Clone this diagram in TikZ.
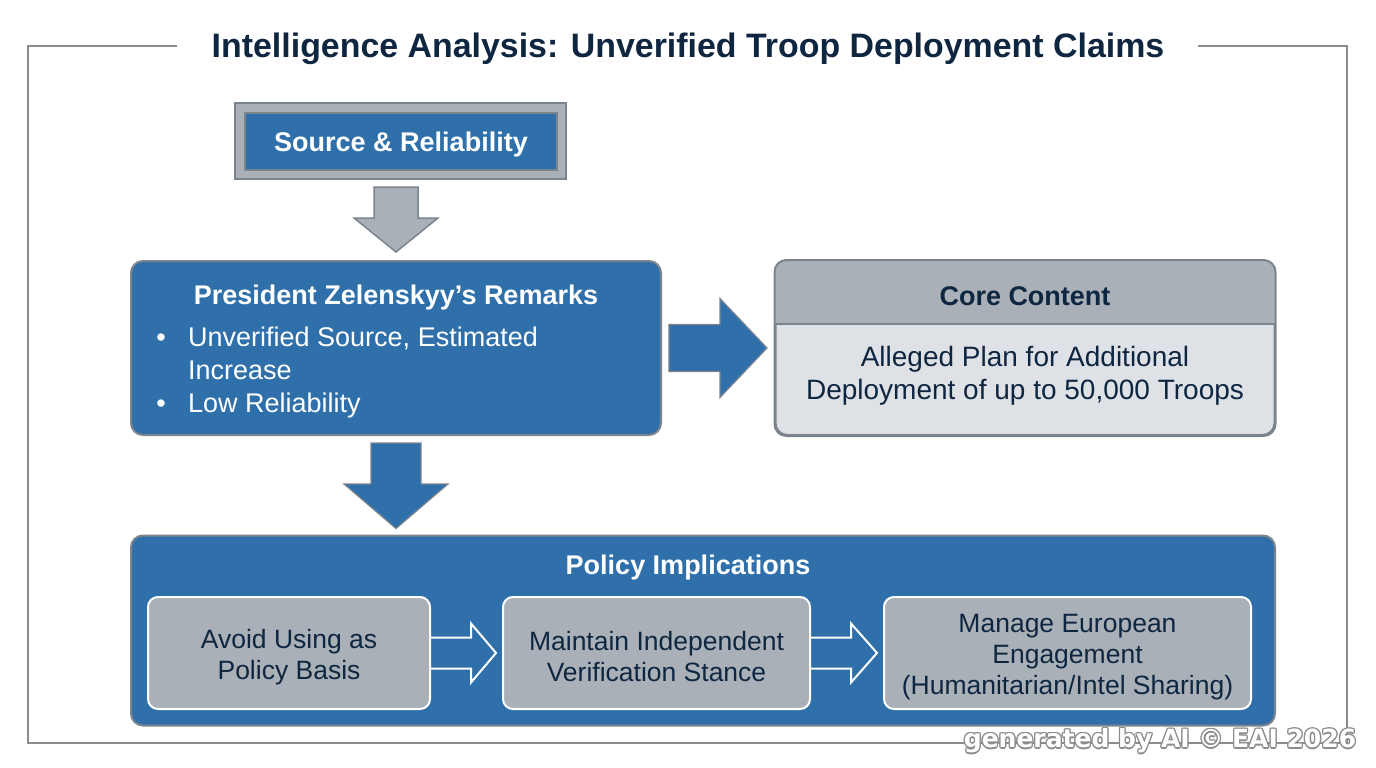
\documentclass[tikz,border=0pt]{standalone}
\usepackage{fontspec}
\setmainfont{Liberation Sans}
\newfontfamily\wmfont{DejaVu Sans}
\usetikzlibrary{positioning,calc}
\definecolor{kek}{HTML}{2F70AB}
\definecolor{szur}{HTML}{A9B0B7}
\definecolor{vil}{HTML}{DEE2E6}
\definecolor{el}{HTML}{7B848D}
\definecolor{navy}{HTML}{0F2640}
\definecolor{keret}{HTML}{8C8C8C}
\newcommand\fsz[2]{\fontsize{#1}{#2}\selectfont}
\tikzset{
  blu/.style={draw=el,line width=2pt,fill=kek,rounded corners=12pt,inner sep=0pt},
  gry/.style={draw=white,line width=2pt,fill=szur,rounded corners=10pt,align=center,
    text=navy,font=\fsz{26.5}{31}},
  wtit/.style={text=white,font=\bfseries\fsz{27}{32}},
  wtxt/.style={text=white,font=\fsz{27}{33},text height=20pt,text depth=6pt,inner sep=0pt},
  barr/.style={draw=el,line width=1.2pt,fill=kek},
  garr/.style={draw=el,line width=1.5pt,fill=szur},
  wlin/.style={draw=white,line width=2pt},
}
\begin{document}
\begin{tikzpicture}[x=1pt,y=-1pt]
  \useasboundingbox (0,0) rectangle (1376,768);
  % keret es cim
  \node[text=navy,font=\bfseries\fsz{33.9}{38}] (title) at (688,49)
    {Intelligence Analysis: Unverified Troop Deployment Claims};
  \draw[keret,line width=2.5pt] (177,46) -- (28,46) -- (28,743) -- (1347,743) -- (1347,46) -- (1198,46);

  % forras
  \node[draw=el,line width=2pt,fill=szur,minimum width=331pt,minimum height=76pt,inner sep=0pt]
    (srcout) at (400.5,141) {};
  \node[draw=el,line width=1.5pt,fill=kek,minimum width=312pt,minimum height=57pt,inner sep=0pt]
    (src) at (401,141.5) {};
  \node[wtit] (srctxt) at (401,144.5) {Source \& Reliability};

  % elnok
  \node[blu,minimum width=530pt,minimum height=174pt] (pres) at (396,348) {};
  \node[wtit] (prestit) at (396,298) {President Zelenskyy’s Remarks};
  \foreach \t/\y/\n in {Unverified Source{,} Estimated/339/b1,Increase/372/b2,Low Reliability/405/b3}
    \node[wtxt,anchor=west] (\n) at (188,\y) {\t};
  \node[wtxt] (d1) at (161,339) {\textbullet};
  \node[wtxt] (d2) at (161,405) {\textbullet};

  % tartalom
  \node[draw=el,line width=2pt,fill=vil,rounded corners=12pt,minimum width=499pt,
    minimum height=174pt,inner sep=0pt] (core) at (1025,348) {};
  \begin{scope}
    \clip (core.north west) rectangle ($(core.east)+(0,-24)$);
    \fill[szur,rounded corners=12pt] (core.north west) rectangle (core.south east);
  \end{scope}
  \draw[el,line width=2pt] ($(core.west)+(0,-24)$) -- ($(core.east)+(0,-24)$);
  \draw[el,line width=2pt,rounded corners=12pt] (core.north west) rectangle (core.south east);
  \node[text=navy,font=\bfseries\fsz{27}{32}] (coretit) at (1025,296) {Core Content};
  \node[text=navy,font=\fsz{28}{33},align=center] (coretxt) at (1025,375.5)
    {Alleged Plan for Additional\\Deployment of up to 50,000 Troops};

  % kovetkezmenyek
  \node[blu,minimum width=1144pt,minimum height=190pt] (pol) at (703,630.5) {};
  \node[wtit] (poltit) at (688,568) {Policy Implications};
  \node[gry,minimum width=282pt,minimum height=112pt] (p1) at (289,653) {};
  \node[gry,minimum width=307pt,minimum height=112pt] (p2) at (656.5,653) {};
  \node[gry,minimum width=367pt,minimum height=112pt] (p3) at (1067.5,653) {};
  \node[gry,draw=none,fill=none] (t1) at ($(p1)+(0,4)$) {Avoid Using as\\Policy Basis};
  \node[gry,draw=none,fill=none] (t2) at ($(p2)+(0,4)$) {Maintain Independent\\Verification Stance};
  \node[gry,draw=none,fill=none] (t3) at ($(p3)+(0,4)$)
    {Manage European\\Engagement\\(Humanitarian/Intel Sharing)};

  % nyilak
  \coordinate (ga) at (pres.north |- srcout.south);
  \draw[garr] ($(ga)+(-22,7)$) -- ($(ga)+(22,7)$) -- ($(ga)+(22,38)$) -- ($(ga)+(42,38)$)
    -- ($(pres.north)+(0,-8)$) -- ($(ga)+(-42,38)$) -- ($(ga)+(-22,38)$) -- cycle;
  \coordinate (ba) at (pres.south);
  \draw[barr] ($(ba)+(-25,7)$) -- ($(ba)+(25,7)$) -- ($(ba)+(25,48)$) -- ($(ba)+(52,48)$)
    -- ($(pres.south |- pol.north)+(0,-6)$) -- ($(ba)+(-52,48)$) -- ($(ba)+(-25,48)$) -- cycle;
  \coordinate (ra) at (pres.east);
  \draw[barr] ($(ra)+(7,-23.5)$) -- ($(ra)+(58,-23.5)$) -- ($(ra)+(58,-49.5)$)
    -- ($(core.west)+(-7.5,0)$) -- ($(ra)+(58,49.5)$) -- ($(ra)+(58,23.5)$) -- ($(ra)+(7,23.5)$) -- cycle;
  \foreach \a/\b in {p1/p2,p2/p3}
    \draw[wlin] ($(\a.east)+(0,-15.5)$) -- ++(40,0) -- ++(0,-14) -- ($(\b.west)+(-6,0)$)
      -- ($(\a.east)+(40,29.5)$) -- ++(0,-14) -- ++(-40,0);

  % jel
  \foreach \dx/\dy in {-1.3/0,1.3/0,0/-1.3,0/1.3,-1/-1,1/1,-1/1,1/-1}
    \node[text=keret,font=\wmfont\bfseries\fsz{25}{30}] at ($(1160,741)+(\dx,\dy)$) {generated by AI © EAI 2026};
  \node[text=white,font=\wmfont\bfseries\fsz{25}{30}] (wm) at (1160,741) {generated by AI © EAI 2026};
\end{tikzpicture}
\end{document}
